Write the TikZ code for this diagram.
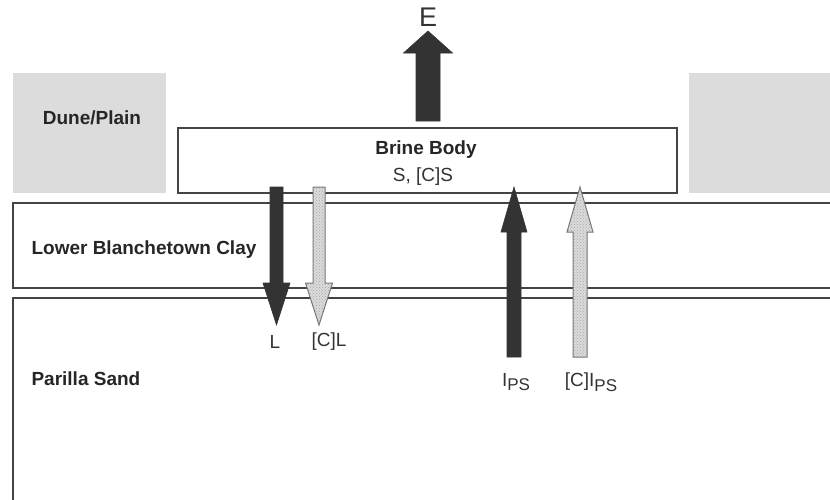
\documentclass[tikz,border=0pt]{standalone}
\usepackage{fontspec}
\setmainfont{Liberation Sans}
\usetikzlibrary{patterns}
\definecolor{darkfill}{HTML}{333333}
\definecolor{boxgrey}{HTML}{DCDCDC}
\definecolor{linegrey}{HTML}{444444}
\tikzset{
  layer/.style={draw=linegrey, line width=2pt},
  darkarrow/.style={fill=darkfill, draw=darkfill, line width=0.6pt, line join=miter},
  lightarrow/.style={fill=black!14, draw=black!55, line width=1pt, line join=miter,
    postaction={pattern=crosshatch dots, pattern color=black!35}},
  boldlbl/.style={font=\fontsize{19}{21}\selectfont\bfseries, text=black!85},
  plainlbl/.style={font=\fontsize{19}{21}\selectfont, text=black!80},
}
\newcommand\subPS{\raisebox{-0.45ex}{\fontsize{17}{18}\selectfont PS}}
% \fatarrow{style}{x}{start y}{head base y}{tip y}{shaft half}{head half}
\newcommand\fatarrow[7]{%
  \path[#1] (#2-#6,#3) -- (#2-#6,#4) -- (#2-#7,#4) -- (#2,#5) -- (#2+#7,#4) -- (#2+#6,#4) -- (#2+#6,#3) -- cycle;}
\begin{document}
\begin{tikzpicture}[x=1pt,y=-1pt]
\useasboundingbox (0,0) rectangle (830,499);
\begin{scope}
\clip (0,0) rectangle (830,499);
% grey side boxes
\fill[boxgrey] (13,73) rectangle (166,193);
\fill[boxgrey] (689,73) rectangle (840,193);
% layers
\draw[layer] (13,203) rectangle (850,288);
\draw[layer] (13,298) rectangle (850,530);
\end{scope}
% brine body
\draw[layer] (178,128) rectangle (677,193);
\node[boldlbl] (dune) at (92,118) {Dune/Plain};
\node[boldlbl] (brine) at (426,150) {Brine Body};
\node[plainlbl] (s) at (423,177) {S, [C]S};
\node[boldlbl, anchor=west] (clay) at (28,250) {Lower Blanchetown Clay};
\node[boldlbl, anchor=west] (sand) at (28,379) {Parilla Sand};
% arrows
\fatarrow{darkarrow}{428}{121}{53}{31}{12}{24.5}
\fatarrow{darkarrow}{276.5}{187}{283}{325}{6.5}{13.5}
\fatarrow{lightarrow}{319}{187}{283}{325}{6}{13.5}
\fatarrow{darkarrow}{514}{357}{232}{187}{7}{13}
\fatarrow{lightarrow}{580}{357}{232}{187}{7}{13}
% labels
\node[plainlbl, font=\fontsize{27}{30}\selectfont] (E) at (428,17) {E};
\node[plainlbl] (L) at (275,342) {L};
\node[plainlbl] (CL) at (329,342) {[C]L};
\node[plainlbl] (I) at (516,382) {I\subPS};
\node[plainlbl] (CI) at (591,382) {[C]I\subPS};
\end{tikzpicture}
\end{document}
